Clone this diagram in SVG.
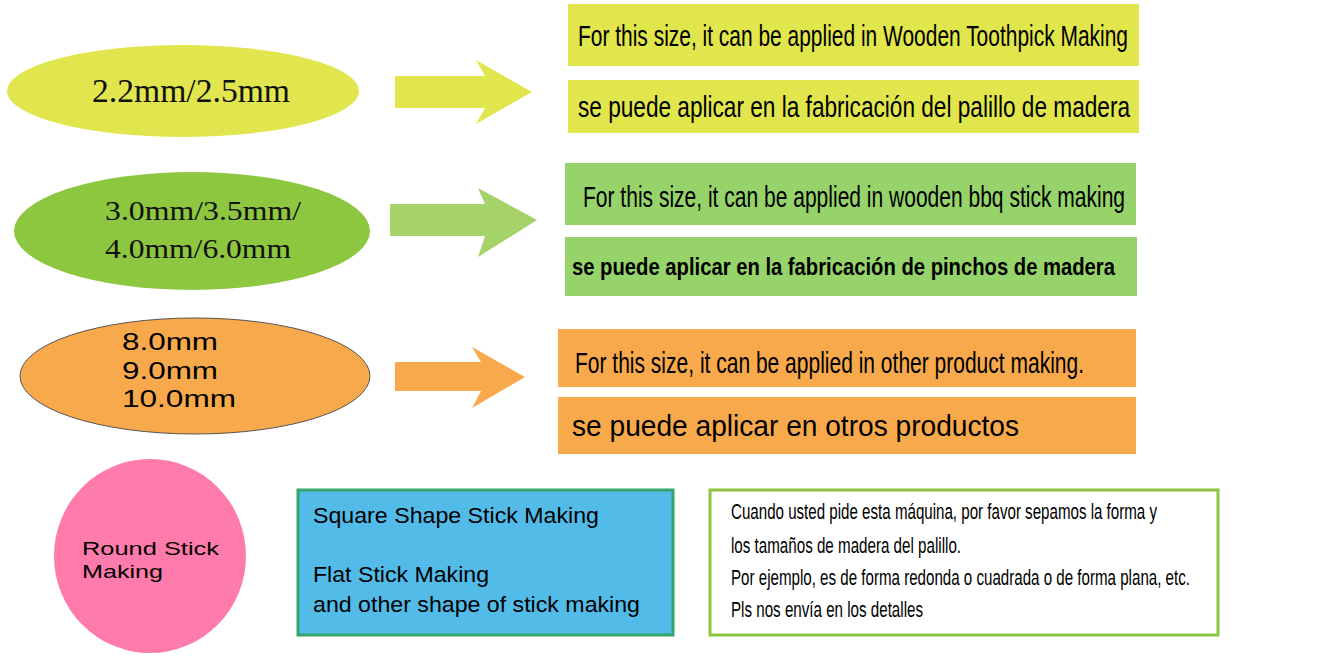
<svg xmlns="http://www.w3.org/2000/svg" width="1330" height="667" viewBox="0 0 1330 667">
<style>
.serif{font-family:"Liberation Serif","Times New Roman",serif;fill:#111}
.sans{font-family:"Liberation Sans",Arial,sans-serif;fill:#000}
.narrow{font-family:"Liberation Sans",Arial,sans-serif;fill:#000}
</style>
<rect width="1330" height="667" fill="#fff"/>
<g id="size-1">
<ellipse cx="183" cy="91" rx="176" ry="46" fill="#e1e64e"/>
<text class="serif" x="92" y="102" font-size="34" textLength="198" lengthAdjust="spacingAndGlyphs">2.2mm/2.5mm</text>
</g>
<g id="size-2">
<ellipse cx="192" cy="231" rx="178" ry="59" fill="#8dc63f"/>
<text class="serif" x="105" y="220" font-size="28" textLength="196" lengthAdjust="spacingAndGlyphs">3.0mm/3.5mm/</text>
<text class="serif" x="105" y="258" font-size="28" textLength="186" lengthAdjust="spacingAndGlyphs">4.0mm/6.0mm</text>
</g>
<g id="size-3">
<ellipse cx="195" cy="376" rx="175" ry="58" fill="#f7a94b" stroke="#555" stroke-width="1"/>
<text class="sans" x="122" y="350" font-size="23" textLength="96" lengthAdjust="spacingAndGlyphs">8.0mm</text>
<text class="sans" x="122" y="379" font-size="23" textLength="96" lengthAdjust="spacingAndGlyphs">9.0mm</text>
<text class="sans" x="122" y="407" font-size="23" textLength="114" lengthAdjust="spacingAndGlyphs">10.0mm</text>
</g>
<g id="connectors">
<polygon points="395,76 485,76 476,60 532,92 476,124 485,108 395,108" fill="#e1e64c"/>
<polygon points="390,204 485,204 478,188 537,220 478,257 485,236 390,236" fill="#a6d26a"/>
<polygon points="395,362 481,362 472,347 525,377 472,408 481,391 395,391" fill="#f7a94b"/>
</g>
<g id="use-1">
<rect x="568" y="4" width="571" height="62" fill="#e1e64c"/>
<text class="narrow" transform="translate(578,46) scale(0.75,1)" font-size="29" textLength="733.3" lengthAdjust="spacingAndGlyphs">For this size, it can be applied in Wooden Toothpick Making</text>
<rect x="568" y="80" width="571" height="53" fill="#e1e64c"/>
<text class="narrow" transform="translate(578,117) scale(0.75,1)" font-size="30" textLength="736" lengthAdjust="spacingAndGlyphs">se puede aplicar en la fabricación del palillo de madera</text>
</g>
<g id="use-2">
<rect x="565" y="163" width="571" height="62" fill="#96d46b"/>
<text class="narrow" transform="translate(583,207) scale(0.75,1)" font-size="29" textLength="722.7" lengthAdjust="spacingAndGlyphs">For this size, it can be applied in wooden bbq stick making</text>
<rect x="565" y="237" width="572" height="59" fill="#96d46b"/>
<text class="narrow" transform="translate(572,275) scale(0.8,1)" font-size="24" font-weight="bold" textLength="678.75" lengthAdjust="spacingAndGlyphs">se puede aplicar en la fabricación de pinchos de madera</text>
</g>
<g id="use-3">
<rect x="558" y="329" width="578" height="58" fill="#f7a94b"/>
<text class="narrow" transform="translate(575,373) scale(0.75,1)" font-size="29" textLength="678.7" lengthAdjust="spacingAndGlyphs">For this size, it can be applied in other product making.</text>
<rect x="558" y="397" width="578" height="57" fill="#f7a94b"/>
<text class="sans" x="572" y="436" font-size="29" textLength="447" lengthAdjust="spacingAndGlyphs">se puede aplicar en otros productos</text>
</g>
<g id="round">
<ellipse cx="150" cy="556" rx="96" ry="97" fill="#fe7bab"/>
<text class="sans" x="82" y="555" font-size="19" textLength="137" lengthAdjust="spacingAndGlyphs">Round Stick</text>
<text class="sans" x="82" y="578" font-size="19" textLength="81" lengthAdjust="spacingAndGlyphs">Making</text>
</g>
<g id="square-flat">
<rect x="298" y="490" width="375" height="145" fill="#52bbe8" stroke="#35a66b" stroke-width="3"/>
<text class="sans" x="313" y="523" font-size="22" textLength="286" lengthAdjust="spacingAndGlyphs">Square Shape Stick Making</text>
<text class="sans" x="313" y="582" font-size="22" textLength="176" lengthAdjust="spacingAndGlyphs">Flat Stick Making</text>
<text class="sans" x="313" y="612" font-size="22" textLength="327" lengthAdjust="spacingAndGlyphs">and other shape of stick making</text>
</g>
<g id="note">
<rect x="710" y="490" width="508" height="145" fill="#fff" stroke="#8dc63f" stroke-width="3"/>
<text class="narrow" transform="translate(731,519) scale(0.7,1)" font-size="22" textLength="608.6" lengthAdjust="spacingAndGlyphs">Cuando usted pide esta máquina, por favor sepamos la forma y</text>
<text class="narrow" transform="translate(731,553) scale(0.7,1)" font-size="22" textLength="328.6" lengthAdjust="spacingAndGlyphs">los tamaños de madera del palillo.</text>
<text class="narrow" transform="translate(731,585) scale(0.7,1)" font-size="22" textLength="655.7" lengthAdjust="spacingAndGlyphs">Por ejemplo, es de forma redonda o cuadrada o de forma plana, etc.</text>
<text class="narrow" transform="translate(731,617) scale(0.7,1)" font-size="22" textLength="274.3" lengthAdjust="spacingAndGlyphs">Pls nos envía en los detalles</text>
</g>
</svg>
